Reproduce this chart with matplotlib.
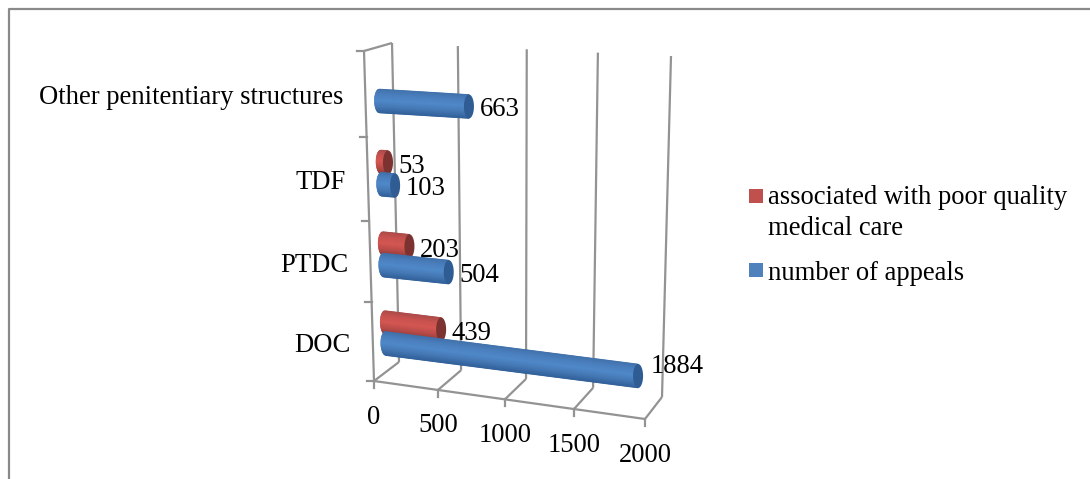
import numpy as np
import matplotlib
matplotlib.use("Agg")
import matplotlib.pyplot as plt

categories = ["DOC", "PTDC", "TDF", "Other penitentiary structures"]
appeals = [1884, 504, 103, 663]
poor_care = [439, 203, 53, None]
value_ticks = [0, 500, 1000, 1500, 2000]

legend_poor = "associated with poor quality\nmedical care"
legend_appeals = "number of appeals"

plt.rcParams["font.family"] = ["Liberation Serif", "DejaVu Serif"]
FS = 19.2
GRID = "#939393"
DEPTH = 0.5

# box corners in figure pixels, keys are (value side, height side, depth side)
corners = {
    (0, 0, 0): (374, 381), (1, 0, 0): (645, 419),
    (0, 1, 0): (364, 51), (1, 1, 0): (657, 65),
    (0, 0, 1): (399, 362), (1, 0, 1): (662, 397),
    (0, 1, 1): (392, 43), (1, 1, 1): (671, 56),
}
# foreshortening along the two long axes
value_frac = [0, 0.236, 0.483, 0.738, 1]
height_frac = [0, 0.239, 0.485, 0.74, 1]


def project(v, c, d):
    f = np.interp(v, value_ticks, value_frac)
    h = np.interp(c, [0, 1, 2, 3, 4], height_frac)
    out = np.zeros(2)
    for (a, b, e), p in corners.items():
        out += np.array(p) * (f if a else 1 - f) * (h if b else 1 - h) * (d if e else 1 - d)
    return out


def line3d(ax, p0, p1, lw=1.6):
    a, b = project(*p0), project(*p1)
    ax.plot([a[0], b[0]], [a[1], b[1]], color=GRID, lw=lw, solid_capstyle="butt", zorder=1)


def cylinder(ax, value, c, shades, cap):
    start, end = project(0, c, DEPTH), project(value, c, DEPTH)
    r, a = 12, 5
    ts = np.linspace(-1, 1, 41)
    stops = np.linspace(-1, 1, len(shades))
    rgb = np.array([matplotlib.colors.to_rgb(s) for s in shades])
    slope = (end[1] - start[1]) / max(end[0] - start[0], 1)
    for t0, t1 in zip(ts[:-1], ts[1:]):
        tm = (t0 + t1) / 2
        col = [np.interp(tm, stops, rgb[:, i]) for i in range(3)]
        b0 = a * np.sqrt(1 - t0 ** 2)
        b1 = a * np.sqrt(1 - t1 ** 2)
        xs = [start[0] - b0, end[0], end[0], start[0] - b1]
        ys = [start[1] + t0 * r - b0 * slope, end[1] + t0 * r, end[1] + t1 * r, start[1] + t1 * r - b1 * slope]
        ax.fill(xs, ys, color=col, lw=0.4, zorder=3)
    th = np.linspace(0, 2 * np.pi, 60)
    ax.fill(end[0] + a * np.cos(th), end[1] + r * np.sin(th), color=cap, lw=0, zorder=3)


fig = plt.figure(figsize=(10.9, 4.79), dpi=100)
ax = fig.add_axes([0, 0, 1, 1])
ax.set_xlim(0, 1090)
ax.set_ylim(479, 0)
ax.axis("off")

# outer chart frame, only top and left are visible
ax.plot([9, 9, 1090], [479, 9, 9], color="#8a8a8a", lw=1.6, zorder=1)

for v in value_ticks:
    line3d(ax, (v, 0, 0), (v, 0, 1))
    line3d(ax, (v, 0, 1), (v, 4, 1))
    a = project(v, 0, 0)
    ax.plot([a[0], a[0]], [a[1], a[1] + 7], color=GRID, lw=1.6, zorder=1)
    ax.text(a[0], a[1] + 36, str(v), ha="center", va="center", fontsize=FS)
line3d(ax, (0, 0, 0), (2000, 0, 0))
line3d(ax, (0, 0, 0), (0, 4, 0))
line3d(ax, (0, 4, 0), (0, 4, 1))
for c in range(5):
    a = project(0, c, 0)
    ax.plot([a[0] - 7, a[0]], [a[1], a[1]], color=GRID, lw=1.6, zorder=1)

for i, name in enumerate(categories):
    a = project(0, i + 0.5, 0)
    ax.text(a[0] - 22, a[1] + 4, name, ha="right", va="center", fontsize=FS)

blue = ["#3f70aa", "#4a7fbe", "#4f88c9", "#4478b4", "#31609a"]
red = ["#a84a48", "#c9514e", "#d35652", "#b84a47", "#8b3a38"]
label_off = {1884: (13, -10)}
for i in range(len(categories) - 1, -1, -1):
    if poor_care[i] is not None:
        cylinder(ax, poor_care[i], i + 0.63, red, "#7c3230")
        e = project(poor_care[i], i + 0.63, DEPTH)
        ax.text(e[0] + 10, e[1] + 4, str(poor_care[i]), va="center", fontsize=FS, zorder=4)
    cylinder(ax, appeals[i], i + 0.36, blue, "#2f5c92")
    e = project(appeals[i], i + 0.36, DEPTH)
    dx, dy = label_off.get(appeals[i], (11, 3))
    ax.text(e[0] + dx, e[1] + dy, str(appeals[i]), va="center", fontsize=FS, zorder=4)

# legend
ax.fill([749, 763, 763, 749], [189, 189, 203, 203], color="#c0504d", lw=0)
ax.fill([749, 763, 763, 749], [263, 263, 277, 277], color="#4f81bd", lw=0)
ax.text(768, 213, legend_poor, va="center", fontsize=FS, linespacing=1.35)
ax.text(768, 273, legend_appeals, va="center", fontsize=FS)

fig.savefig("out.png", dpi=100)
